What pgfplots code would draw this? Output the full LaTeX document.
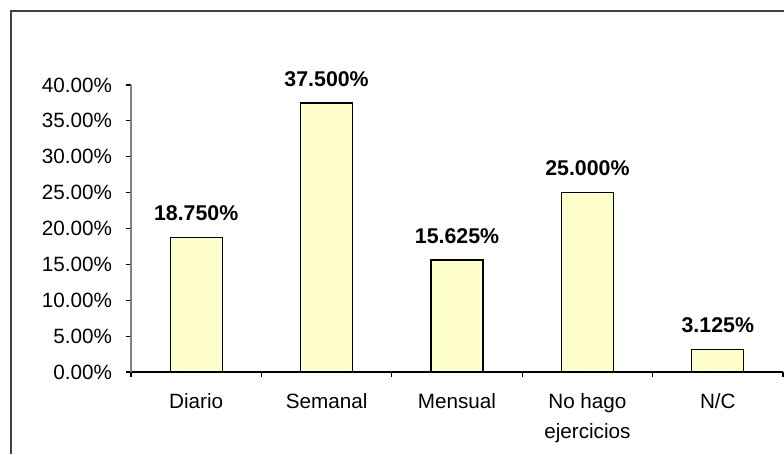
\documentclass[border=0pt]{standalone}
\usepackage{pgfplots}
\pgfplotsset{compat=1.18}
\usepackage{fontspec}
\setmainfont{Liberation Sans}
\definecolor{barfill}{HTML}{FFFFCC}
\definecolor{frame}{HTML}{404040}
\begin{document}
\begin{tikzpicture}
\begin{axis}[
  scale only axis,
  width=489pt, height=215.25pt,
  xmin=-0.5, xmax=4.5, ymin=0, ymax=40,
  axis x line*=bottom, axis y line*=left,
  x axis line style={black, line width=0.9pt, -},
  y axis line style={gray, line width=0.9pt, -},
  tick align=outside,
  major tick length=3.75pt, minor tick length=3.75pt,
  xtick={0,1,2,3,4},
  xticklabels={Diario, Semanal, Mensual, {No hago\\ejercicios}, N/C},
  major x tick style={draw=none},
  minor xtick={-0.5,0.5,1.5,2.5,3.5,4.5},
  minor x tick style={black, line width=0.8pt},
  ytick={0,5,...,40},
  yticklabels={0.00\%,5.00\%,10.00\%,15.00\%,20.00\%,25.00\%,30.00\%,35.00\%,40.00\%},
  y tick style={black, line width=0.8pt},
  xticklabel style={font=\fontsize{15.5}{22.5}\selectfont, align=center, anchor=north, yshift=-8.5pt},
  yticklabel style={font=\fontsize{15.5}{18}\selectfont, anchor=east, xshift=-7pt},
  /pgf/number format/assume math mode=true,
  ybar, bar width=39pt, bar shift=0pt,
  nodes near coords={\pgfmathprintnumber[fixed,fixed zerofill,precision=3]{\pgfplotspointmeta}\%},
  nodes near coords style={font=\fontsize{16}{18}\selectfont\bfseries, anchor=south, yshift=8.5pt},
  clip=false
]
\addplot[fill=barfill, draw=black, line width=1pt] coordinates {
  (0,18.75) (1,37.5) (2,15.625) (3,25.0) (4,3.125)
};
\end{axis}
\draw[frame, line width=1.5pt] (-90pt,-61.5pt) -- (-90pt,270.75pt) -- (489.75pt,270.75pt);
\pgfresetboundingbox
\useasboundingbox (-98.25pt,-61.5pt) rectangle (489.75pt,279pt);
\end{tikzpicture}
\end{document}
